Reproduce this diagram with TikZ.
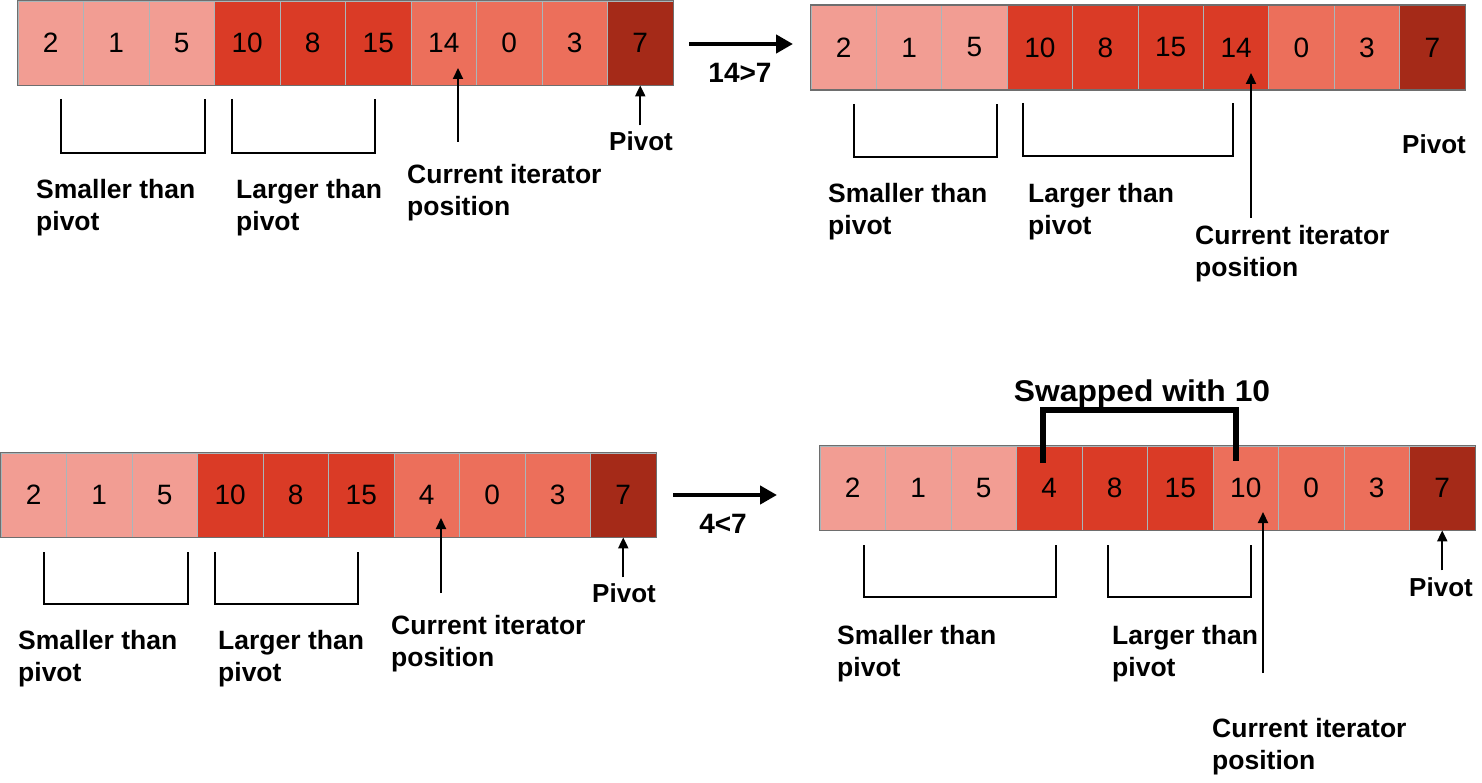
\documentclass[tikz,border=0pt]{standalone}
\usepackage{fontspec}
\usepackage{graphicx}
\setmainfont{Liberation Sans}
\usetikzlibrary{arrows.meta}
\definecolor{cpink}{HTML}{F29D93}
\definecolor{cred}{HTML}{DA3B26}
\definecolor{cmed}{HTML}{EC6F5B}
\definecolor{cdark}{HTML}{A52A18}
\definecolor{csep}{HTML}{A9B6BA}
\definecolor{cframe}{HTML}{6E6E6E}
\tikzset{
  cell/.style={rectangle, minimum width=65.5pt, minimum height=84pt, inner sep=0pt,
    draw=csep, line width=0.8pt, font=\fontsize{28}{32}\selectfont, text=black},
  frame/.style={draw=cframe, line width=1.5pt},
  lbl/.style={font=\bfseries\fontsize{26.5}{32.5}\selectfont, align=left, anchor=north west, inner sep=0pt},
  pivlbl/.style={font=\bfseries\fontsize{26}{32}\selectfont, anchor=base, inner sep=0pt},
  brack/.style={line width=2pt, line join=miter},
  ptr/.style={line width=2pt, -{Triangle[length=11pt,width=10pt]}},
  bigarrow/.style={line width=4.5pt, -{Triangle[length=17pt,width=18pt]}},
  cmp/.style={font=\bfseries\fontsize{28}{32}\selectfont, anchor=base, inner sep=0pt},
  swap/.style={line width=6pt, line join=miter},
}
\begin{document}
\begin{tikzpicture}[x=1pt,y=-1pt]
\useasboundingbox (0,0) rectangle (1482,783);
% ---------- Array 1 ----------
\foreach \v/\c [count=\i from 0] in {2/cpink,1/cpink,5/cpink,10/cred,8/cred,15/cred,14/cmed,0/cmed,3/cmed,7/cdark}
  \node[cell, fill=\c] (A1-\i) at ({18+65.5*(\i+0.5)}, 43) {\v};
\draw[frame] (A1-0.north west) rectangle (A1-9.south east);
% ---------- Array 2 ----------
\foreach \v/\c [count=\i from 0] in {2/cpink,1/cpink,5/cpink,10/cred,8/cred,15/cred,14/cred,0/cmed,3/cmed,7/cdark}
  \node[cell, fill=\c] (A2-\i) at ({811+65.4*(\i+0.5)}, 47.5) {\v};
\draw[frame] (A2-0.north west) rectangle (A2-9.south east);
% ---------- Array 3 ----------
\foreach \v/\c [count=\i from 0] in {2/cpink,1/cpink,5/cpink,10/cred,8/cred,15/cred,4/cmed,0/cmed,3/cmed,7/cdark}
  \node[cell, fill=\c] (A3-\i) at ({1+65.5*(\i+0.5)}, 495) {\v};
\draw[frame] (A3-0.north west) rectangle (A3-9.south east);
% ---------- Array 4 ----------
\foreach \v/\c [count=\i from 0] in {2/cpink,1/cpink,5/cpink,4/cred,8/cred,15/cred,10/cmed,0/cmed,3/cmed,7/cdark}
  \node[cell, fill=\c] (A4-\i) at ({820+65.5*(\i+0.5)}, 488) {\v};
\draw[frame] (A4-0.north west) rectangle (A4-9.south east);

% ---------- transition arrows ----------
\coordinate (T1s) at (689,44); \coordinate (T1e) at (793,44);
\draw[bigarrow] (T1s) -- (T1e);
\node[cmp] (T1l) at (740,83) {14>7};
\coordinate (T2s) at (673,495); \coordinate (T2e) at (777,495);
\draw[bigarrow] (T2s) -- (T2e);
\node[cmp] (T2l) at (723,533) {4<7};

% ---------- Array 1 annotations ----------
\draw[brack] (61,99) -- (61,153) -- (205,153) -- (205,99);
\draw[brack] (232,99) -- (232,153) -- (375,153) -- (375,99);
\node[lbl] (A1s) at (36,179) {Smaller than\\pivot};
\node[lbl] (A1g) at (236,179) {Larger than\\pivot};
\node[lbl] (A1c) at (407,164) {Current iterator\\position};
\coordinate (A1cp) at (458,142); \coordinate (A1ct) at (458,68);
\draw[ptr] (A1cp) -- (A1ct);
\node[pivlbl] (A1p) at (641,151) {Pivot};
\coordinate (A1pp) at ([yshift=-40pt]A1-9.south);
\draw[ptr] (A1pp) -- (A1-9.south);

% ---------- Array 2 annotations ----------
\draw[brack] (854,104) -- (854,157) -- (997,157) -- (997,104);
\draw[brack] (1023,103) -- (1023,156) -- (1233,156) -- (1233,103);
\node[lbl] (A2s) at (828,183) {Smaller than\\pivot};
\node[lbl] (A2g) at (1028,183) {Larger than\\pivot};
\node[lbl] (A2c) at (1195,225) {Current iterator\\position};
\coordinate (A2cp) at (1251,218); \coordinate (A2ct) at (1251,73);
\draw[ptr] (A2cp) -- (A2ct);
\node[pivlbl] (A2p) at (1434,154) {Pivot};

% ---------- Array 3 annotations ----------
\draw[brack] (44,552) -- (44,604) -- (188,604) -- (188,552);
\draw[brack] (215,552) -- (215,604) -- (358,604) -- (358,552);
\node[lbl] (A3s) at (18,630) {Smaller than\\pivot};
\node[lbl] (A3g) at (218,630) {Larger than\\pivot};
\node[lbl] (A3c) at (391,615) {Current iterator\\position};
\coordinate (A3cp) at (441,593); \coordinate (A3ct) at (441,518);
\draw[ptr] (A3cp) -- (A3ct);
\node[pivlbl] (A3p) at (624,602) {Pivot};
\coordinate (A3pp) at ([yshift=-40pt]A3-9.south);
\draw[ptr] (A3pp) -- (A3-9.south);

% ---------- Array 4 annotations ----------
\coordinate (S1) at (1043,463); \coordinate (S2) at (1236,461);
\draw[swap] (S1) -- (1043,410) -- (1236,410) -- (S2);
\node[font=\bfseries\fontsize{30}{34}\selectfont, anchor=base, inner sep=0pt] (SW) at (1142,401) {\scalebox{1.06}[1]{Swapped with 10}};
\draw[brack] (864,545) -- (864,597) -- (1056,597) -- (1056,545);
\draw[brack] (1108,545) -- (1108,597) -- (1251,597) -- (1251,545);
\node[lbl] (A4s) at (837,625) {Smaller than\\pivot};
\node[lbl] (A4g) at (1112,625) {Larger than\\pivot};
\node[lbl] (A4c) at (1212,718) {Current iterator\\position};
\coordinate (A4cp) at (1263,673); \coordinate (A4ct) at (1263,512);
\draw[ptr] (A4cp) -- (A4ct);
\node[pivlbl] (A4p) at (1441,596) {Pivot};
\coordinate (A4pp) at ([yshift=-40pt]A4-9.south);
\draw[ptr] (A4pp) -- (A4-9.south);
\end{tikzpicture}
\end{document}
